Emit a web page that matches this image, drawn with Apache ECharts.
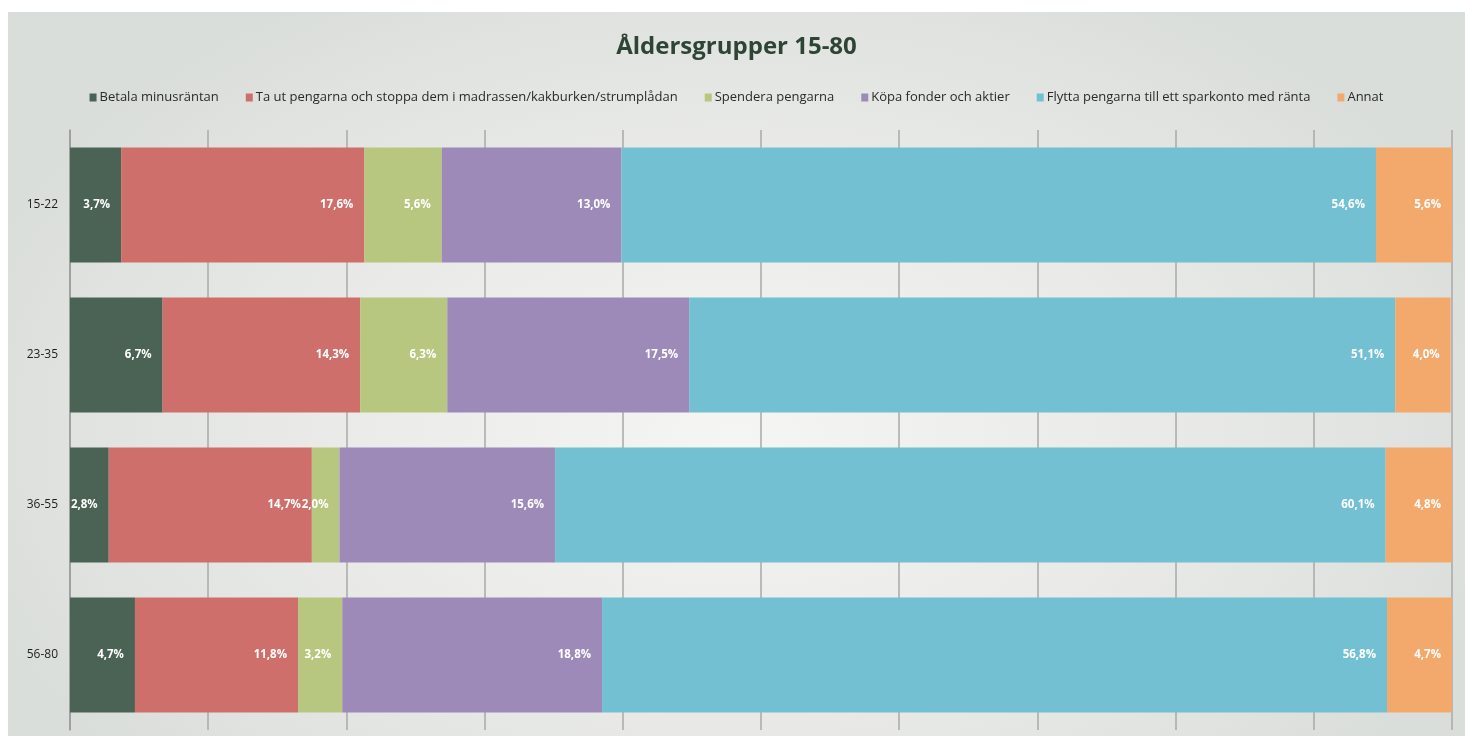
<!DOCTYPE html>
<html>
<head>
<meta charset="utf-8">
<script src="https://cdn.jsdelivr.net/npm/echarts@6/dist/echarts.min.js"></script>
<style>
  body { margin: 0; background: #fff; }
  #chart {
    position: absolute; left: 8px; top: 12px; width: 1457px; height: 724px;
    background: radial-gradient(ellipse 55% 70% at 50% 58%, #f5f5f4 0%, #e9eae8 55%, #dadeda 100%);
  }
</style>
</head>
<body>
<div id="chart"></div>
<script>
// åldersgrupper (uppifrån och ned)
var categories = ["15-22", "23-35", "36-55", "56-80"];

var seriesNames = [
  "Betala minusräntan",
  "Ta ut pengarna och stoppa dem i madrassen/kakburken/strumplådan",
  "Spendera pengarna",
  "Köpa fonder och aktier",
  "Flytta pengarna till ett sparkonto med ränta",
  "Annat"
];

// procent per grupp
var betala = [3.7, 6.7, 2.8, 4.7];
var taUt = [17.6, 14.3, 14.7, 11.8];
var spendera = [5.6, 6.3, 2.0, 3.2];
var fonder = [13.0, 17.5, 15.6, 18.8];
var sparkonto = [54.6, 51.1, 60.1, 56.8];
var annat = [5.6, 4.0, 4.8, 4.7];

var colors = ["#4b6354", "#cf6f6b", "#b7c77f", "#9d8ab8", "#73c0d2", "#f3a96b"];

var chart = echarts.init(document.getElementById("chart"));

function makeSeries(name, data) {
  return {
    name: name,
    type: "bar",
    stack: "total",
    barWidth: 115,
    data: data,
    label: {
      show: true,
      position: "insideRight",
      distance: 11,
      color: "#fff",
      fontWeight: "bold",
      fontSize: 11.5,
      fontFamily: "Open Sans",
      formatter: function (p) {
        return p.value.toFixed(1).replace(".", ",") + "%";
      }
    }
  };
}

chart.setOption({
  backgroundColor: "transparent",
  color: colors,
  title: {
    text: "Åldersgrupper 15-80",
    left: "center",
    top: 18,
    textStyle: {
      fontFamily: "Open Sans",
      fontSize: 24,
      fontWeight: "bold",
      color: "#2e4536"
    }
  },
  legend: {
    top: 74,
    left: "center",
    icon: "rect",
    itemWidth: 7,
    itemHeight: 8,
    itemGap: 27,
    textStyle: { fontFamily: "Open Sans", fontSize: 13, color: "#2a2a2a", padding: [0, 0, 0, -2] },
    data: seriesNames
  },
  grid: { left: 62, right: 13, top: 118, bottom: 6 },
  xAxis: {
    type: "value",
    min: 0,
    max: 100,
    interval: 10,
    axisLabel: { show: false },
    axisLine: { show: false },
    axisTick: { show: false },
    splitLine: { lineStyle: { color: "#a8a8a8", width: 1.5 } }
  },
  yAxis: {
    type: "category",
    inverse: true,
    data: categories,
    axisLine: { lineStyle: { color: "#9a9a9a", width: 1.5 } },
    axisTick: { length: 4, lineStyle: { color: "#9a9a9a" } },
    axisLabel: { fontFamily: "Open Sans", fontSize: 12, color: "#1e1e1e", margin: 12 }
  },
  series: [
    makeSeries(seriesNames[0], betala),
    makeSeries(seriesNames[1], taUt),
    makeSeries(seriesNames[2], spendera),
    makeSeries(seriesNames[3], fonder),
    makeSeries(seriesNames[4], sparkonto),
    makeSeries(seriesNames[5], annat)
  ]
});
</script>
</body>
</html>
